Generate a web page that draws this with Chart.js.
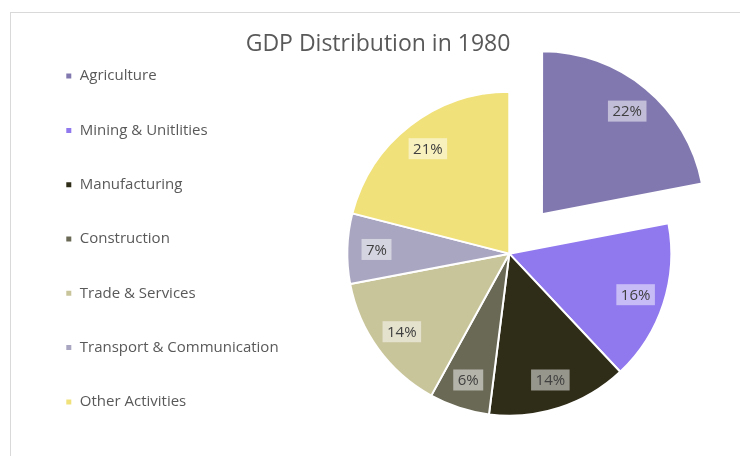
<!DOCTYPE html>
<html>
<head>
<meta charset="utf-8">
<script src="https://cdn.jsdelivr.net/npm/chart.js@4"></script>
<style>
  html, body { margin: 0; padding: 0; background: #fff; }
  #frame {
    position: absolute; left: 10px; top: 12px; width: 740px; height: 460px;
    border-top: 1px solid #d9d9d9; border-left: 1px solid #d9d9d9;
  }
  #wrap { position: absolute; left: 0; top: 0; width: 740px; height: 456px; }
</style>
</head>
<body>
<div id="frame"></div>
<div id="wrap"><canvas id="gdpChart" width="740" height="456"></canvas></div>
<script>
// 資料
const sectors = ['Agriculture', 'Mining & Unitlities', 'Manufacturing', 'Construction',
  'Trade & Services', 'Transport & Communication', 'Other Activities'];
const shares = [22, 16, 14, 6, 14, 7, 21];
const sliceColors = ['#8278b0', '#9078ee', '#2f2c18', '#6a6955', '#c9c59b', '#a9a6c1', '#f0e17b'];
const explode = [205, 0, 0, 0, 0, 0, 0];

// 百分比標籤（帶半透明底框）
const pctLabels = {
  id: 'pctLabels',
  afterDatasetsDraw(chart) {
    const ctx = chart.ctx;
    const meta = chart.getDatasetMeta(0);
    ctx.save();
    ctx.font = '15px "Open Sans"';
    ctx.textAlign = 'center';
    ctx.textBaseline = 'middle';
    meta.data.forEach((arc, i) => {
      const p = arc.getProps(['x', 'y', 'startAngle', 'endAngle', 'outerRadius', 'circumference']);
      const mid = (p.startAngle + p.endAngle) / 2;
      const off = (explode[i] || 0) / 4;
      const fix = 1 - Math.sin(Math.min(Math.PI, p.circumference || 0));
      const shift = off + off * fix;
      const r = p.outerRadius * 0.82;
      const x = p.x + Math.cos(mid) * (r + shift);
      const y = p.y + Math.sin(mid) * (r + shift);
      const text = shares[i] + '%';
      const w = ctx.measureText(text).width + 9;
      const h = 21;
      ctx.fillStyle = 'rgba(255,255,255,0.5)';
      ctx.fillRect(x - w / 2, y - h / 2, w, h);
      ctx.fillStyle = '#404040';
      ctx.fillText(text, x, y + 1);
    });
    ctx.restore();
  }
};

new Chart(document.getElementById('gdpChart').getContext('2d'), {
  type: 'pie',
  data: {
    labels: sectors,
    datasets: [{
      data: shares,
      backgroundColor: sliceColors,
      borderColor: '#ffffff',
      borderWidth: 2,
      offset: explode
    }]
  },
  options: {
    responsive: false,
    animation: false,
    radius: 162,
    layout: { padding: { left: 26, right: 10, top: 28, bottom: 6 } },
    plugins: {
      title: {
        display: true,
        text: 'GDP Distribution in 1980',
        color: '#595959',
        font: { family: '"Open Sans"', size: 23, weight: 'normal', lineHeight: 1.1 },
        padding: { top: 4, bottom: 0 }
      },
      legend: {
        position: 'left',
        labels: {
          boxWidth: 7,
          boxHeight: 7,
          padding: 39.3,
          color: '#595959',
          font: { family: '"Open Sans"', size: 15 }
        }
      },
      tooltip: { enabled: false }
    }
  },
  plugins: [pctLabels]
});
</script>
</body>
</html>
